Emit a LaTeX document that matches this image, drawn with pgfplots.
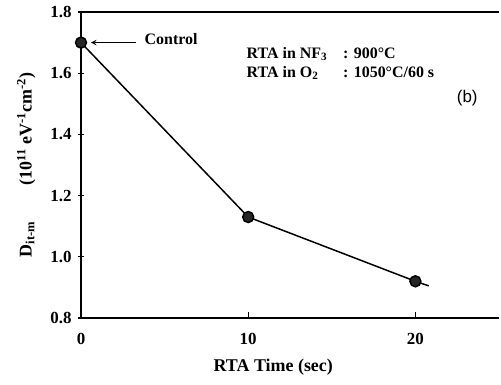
\documentclass[border=0pt]{standalone}
\usepackage{fontspec}
\setmainfont{Liberation Serif}
\newfontfamily\sansb{Liberation Sans}
\usepackage{pgfplots}
\pgfplotsset{compat=1.18}
\begin{document}
\begin{tikzpicture}
\begin{axis}[
  scale only axis, width=418bp, height=306bp,
  xmin=0, xmax=25, ymin=0.8, ymax=1.8,
  axis x line=box, axis y line=left,
  axis line style={line width=1.7pt, -},
  xtick={0,10,20}, ytick={0.8,1.0,...,1.8},
  xtick pos=bottom,
  xtick align=inside, ytick align=center,
  major tick length=6bp,
  tick style={line width=1.3pt, black},
  yticklabel style={/pgf/number format/fixed, /pgf/number format/fixed zerofill, /pgf/number format/precision=1, xshift=-3bp},
  /pgf/number format/assume math mode=true,
  ticklabel style={font=\fontsize{17}{19}\selectfont\bfseries},
  xticklabel style={anchor=center, yshift=-21bp},
  xlabel={\bfseries RTA Time (sec)},
  xlabel style={font=\fontsize{18}{20}\selectfont, at={(axis description cs:0.46,0)}, anchor=center, yshift=-49bp},
  ylabel={\bfseries D\textsubscript{it-m}\qquad (10\textsuperscript{11} eV\textsuperscript{-1}cm\textsuperscript{-2})},
  ylabel style={font=\fontsize{18}{20}\selectfont, yshift=8bp},
  clip=false,
]
\addplot[black, line width=1.5pt, mark=*, mark size=5.5pt, mark options={fill=black!85}] coordinates {(0,1.70) (10,1.13) (20,0.92)};
\addplot[black, line width=1.5pt] coordinates {(20,0.92) (20.8,0.905)};
\draw[<-, line width=1.4pt, >=stealth] (axis cs:0.6,1.70) -- (axis cs:3.3,1.70);
\node[anchor=west, font=\fontsize{16}{18}\selectfont\bfseries] at (axis cs:3.6,1.713) {Control};
\node[anchor=north west, font=\fontsize{16}{18}\selectfont\bfseries, inner sep=0pt] at (axis cs:9.9,1.69)
  {\begin{tabular}{@{}l@{\hspace{16bp}}l@{}}RTA in NF\textsubscript{3} & : 900\textdegree C\\[1pt] RTA in O\textsubscript{2} & : 1050\textdegree C/60 s\end{tabular}};
\node[font=\sansb\fontsize{17}{19}\selectfont] at (axis cs:23.1,1.52) {(b)};
\end{axis}
\path (current axis.south west) ++(-81bp,-67bp) (current axis.north east) ++(2bp,12bp);
\end{tikzpicture}
\end{document}
